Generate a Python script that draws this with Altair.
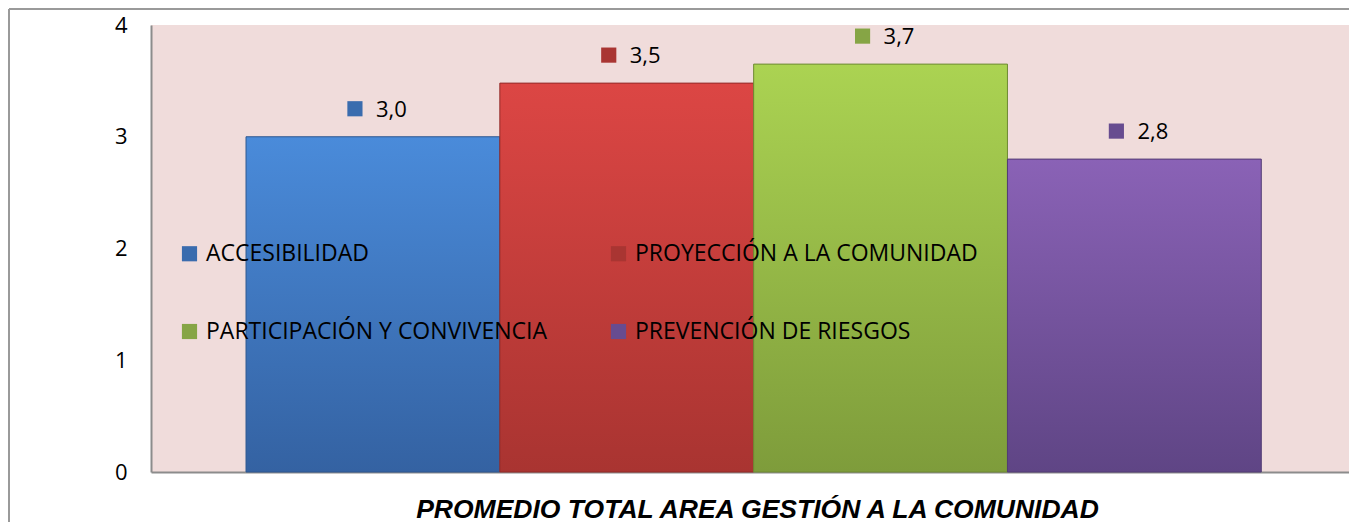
import altair as alt
import pandas as pd

categories = ["ACCESIBILIDAD", "PROYECCIÓN A LA COMUNIDAD",
              "PARTICIPACIÓN Y CONVIVENCIA", "PREVENCIÓN DE RIESGOS"]
values = [3.0, 3.48, 3.65, 2.8]
labels = ["3,0", "3,5", "3,7", "2,8"]
marker_colors = ["#3A6CAE", "#A93532", "#86A545", "#674C90"]
top_colors = ["#4A8BDA", "#DC4644", "#ABD352", "#8A62B6"]
bottom_colors = ["#3462A2", "#A93431", "#7E9C3B", "#5F4585"]
edge_colors = ["#2E5790", "#932B29", "#6E8A33", "#523C74"]
title_text = "PROMEDIO TOTAL AREA GESTIÓN A LA COMUNIDAD"

df = pd.DataFrame({"cat": categories, "val": values, "lab": labels})

W, H = 1198, 447
FONT = "Open Sans"

x_enc = alt.X(
    "cat:N", sort=categories,
    scale=alt.Scale(domain=categories, paddingInner=0, paddingOuter=0.36, align=0.52),
    axis=alt.Axis(labels=False, ticks=False, domainColor="#8C8C8C", domainWidth=2,
                  title=title_text, titleFont="Liberation Sans", titleFontSize=26.5,
                  titleFontWeight="bold", titleFontStyle="italic", titleColor="black",
                  titlePadding=24, titleX=606),
)
y_enc = alt.Y(
    "val:Q",
    scale=alt.Scale(domain=[0, 4], nice=False),
    axis=alt.Axis(values=[0, 1, 2, 3, 4], format="d", ticks=False, grid=False,
                  domainColor="#8C8C8C", domainWidth=2, labelFont=FONT,
                  labelFontSize=22, labelColor="black", labelPadding=24, title=None),
)

base = alt.Chart(df)

layers = []
for c, t, b, e in zip(categories, top_colors, bottom_colors, edge_colors):
    grad = alt.Gradient(
        gradient="linear",
        stops=[alt.GradientStop(color=t, offset=0), alt.GradientStop(color=b, offset=1)],
        x1=0, x2=0, y1=0, y2=1,
    )
    layers.append(
        base.transform_filter(alt.datum.cat == c)
        .mark_bar(color=grad, stroke=e, strokeWidth=1)
        .encode(x=x_enc, y=y_enc)
    )

markers = base.mark_square(size=230, opacity=1, xOffset=-18, yOffset=-28).encode(
    x=alt.X("cat:N", sort=categories),
    y="val:Q",
    color=alt.Color(
        "cat:N", sort=categories,
        scale=alt.Scale(domain=categories, range=marker_colors),
        legend=alt.Legend(
            title=None, orient="none", legendX=27, legendY=217, columns=2,
            direction="horizontal",
            symbolType="square", symbolSize=230, symbolStrokeWidth=0,
            labelFont=FONT, labelFontSize=23, labelColor="black", labelOffset=5,
            labelLimit=500, columnPadding=60, rowPadding=54, padding=0,
        ),
    ),
)

texts = base.mark_text(align="left", baseline="middle", dx=3, dy=-27,
                       font=FONT, fontSize=22, color="black").encode(
    x=alt.X("cat:N", sort=categories), y="val:Q", text="lab:N"
)

frame_v = alt.Chart(df).mark_rule(color="#9A9A9A", strokeWidth=2).encode(
    x=alt.value(-142), y=alt.value(-16), y2=alt.value(H + 60)
)
frame_h = alt.Chart(df).mark_rule(color="#9A9A9A", strokeWidth=2).encode(
    x=alt.value(-142), x2=alt.value(W + 20), y=alt.value(-16)
)

chart = alt.layer(*layers, markers, texts, frame_v, frame_h).properties(
    width=W, height=H,
    autosize=alt.AutoSizeParams(type="none"),
    padding={"left": 143, "top": 17, "right": 0, "bottom": 50},
    background="white",
).configure_view(fill="#F0DCDB", stroke=None)

chart.save("out.html", embed_options={"renderer": "svg", "actions": False})
